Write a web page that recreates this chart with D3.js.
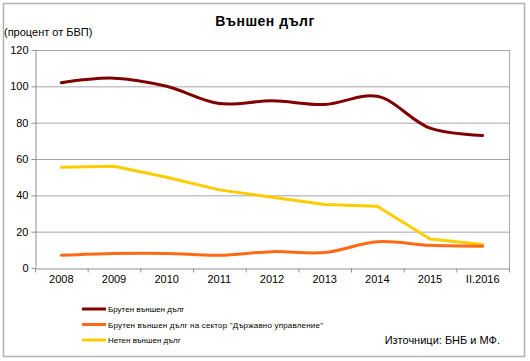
<!DOCTYPE html>
<html>
<head>
<meta charset="utf-8">
<script src="https://cdn.jsdelivr.net/npm/d3@7"></script>
<style>
  body { margin: 0; background: #fff; }
  text { font-family: Arial, "Liberation Sans", sans-serif; }
</style>
</head>
<body>
<svg id="chart" width="530" height="361"></svg>
<script>
// categories and series (percent of GDP)
var years = ["2008", "2009", "2010", "2011", "2012", "2013", "2014", "2015", "II.2016"];
var grossDebt = [102, 104.5, 100, 90.5, 92, 90, 94.5, 77, 73];
var govDebt = [7, 8, 8, 7, 9, 8.5, 14.5, 12.5, 12];
var netDebt = [55.5, 56, 50, 43, 39, 35, 34, 16, 13];
var yTicks = [0, 20, 40, 60, 80, 100, 120];

var seriesNames = ["Брутен външен дълг", "Брутен външен дълг на сектор \"Държавно управление\"", "Нетен външен дълг"];
var seriesColors = ["#800000", "#ff6a13", "#ffcc00"];

var svg = d3.select("#chart");

// outer frame
svg.append("rect")
    .attr("x", 3.5).attr("y", 3.5)
    .attr("width", 521).attr("height", 353)
    .attr("fill", "#fff")
    .attr("stroke", "#b0b0b0")
    .attr("stroke-width", 1.5);

var margin = { top: 50, left: 35 },
    width = 474,
    height = 218;

var g = svg.append("g")
    .attr("transform", "translate(" + margin.left + "," + margin.top + ")");

var x = d3.scaleBand().domain(years).range([0, width]);
var y = d3.scaleLinear().domain([0, 120]).range([height, 0]);

// gridlines
g.append("g")
    .selectAll("line")
    .data(yTicks.slice(1))
    .enter().append("line")
    .attr("x1", 0).attr("x2", width)
    .attr("y1", d => y(d) + 0.5).attr("y2", d => y(d) + 0.5)
    .attr("stroke", "#a6a6a6");

// plot area border right
g.append("line")
    .attr("x1", width + 0.5).attr("x2", width + 0.5)
    .attr("y1", 0).attr("y2", height)
    .attr("stroke", "#a6a6a6");

// y axis
var yAxis = g.append("g")
    .attr("transform", "translate(0.5,0)")
    .call(d3.axisLeft(y).tickValues(yTicks).tickSize(4).tickSizeOuter(0));
yAxis.select(".domain").attr("stroke", "#909090");
yAxis.selectAll(".tick line").attr("stroke", "#909090");
yAxis.selectAll("text").attr("font-size", 11).attr("fill", "#000").attr("x", -7);

// x axis
var xAxis = g.append("g")
    .attr("transform", "translate(0," + (height + 0.5) + ")")
    .call(d3.axisBottom(x).tickSize(0).tickSizeOuter(0));
xAxis.select(".domain").attr("stroke", "#909090");
xAxis.selectAll("text").attr("font-size", 11).attr("fill", "#000").attr("dy", "1.05em");
xAxis.selectAll(".sep")
    .data(d3.range(years.length + 1))
    .enter().append("line")
    .attr("x1", i => i * x.bandwidth() + 0.5)
    .attr("x2", i => i * x.bandwidth() + 0.5)
    .attr("y1", 0).attr("y2", 4)
    .attr("stroke", "#909090");

// lines
var smooth = d3.line()
    .x((d, i) => x(years[i]) + x.bandwidth() / 2)
    .y(d => y(d))
    .curve(d3.curveCatmullRom.alpha(0.5));
var straight = d3.line()
    .x((d, i) => x(years[i]) + x.bandwidth() / 2)
    .y(d => y(d));

var series = [
    { values: netDebt, line: straight, color: seriesColors[2] },
    { values: govDebt, line: smooth, color: seriesColors[1] },
    { values: grossDebt, line: smooth, color: seriesColors[0] }
];
series.forEach(function (s) {
    g.append("path")
        .datum(s.values)
        .attr("d", s.line)
        .attr("fill", "none")
        .attr("stroke", s.color)
        .attr("stroke-width", 3)
        .attr("stroke-linejoin", "round")
        .attr("stroke-linecap", "round");
});

// title and unit label
svg.append("text")
    .attr("x", 265).attr("y", 26)
    .attr("text-anchor", "middle")
    .attr("font-size", 14).attr("font-weight", "bold")
    .attr("letter-spacing", 0.5)
    .text("Външен дълг");
svg.append("text")
    .attr("x", 4).attr("y", 36)
    .attr("font-size", 11)
    .text("(процент от БВП)");

// legend
var legend = svg.append("g");
seriesNames.forEach(function (name, i) {
    var ly = 309 + i * 15.5;
    legend.append("line")
        .attr("x1", 82).attr("x2", 106)
        .attr("y1", ly).attr("y2", ly)
        .attr("stroke", seriesColors[i])
        .attr("stroke-width", 3);
    legend.append("text")
        .attr("x", 108).attr("y", ly + 3)
        .attr("font-size", 8)
        .attr("textLength", i === 1 ? 215 : null)
        .text(name);
});

// source
svg.append("text")
    .attr("x", 500).attr("y", 344)
    .attr("text-anchor", "end")
    .attr("font-size", 11)
    .text("Източници: БНБ и МФ.");
</script>
</body>
</html>
